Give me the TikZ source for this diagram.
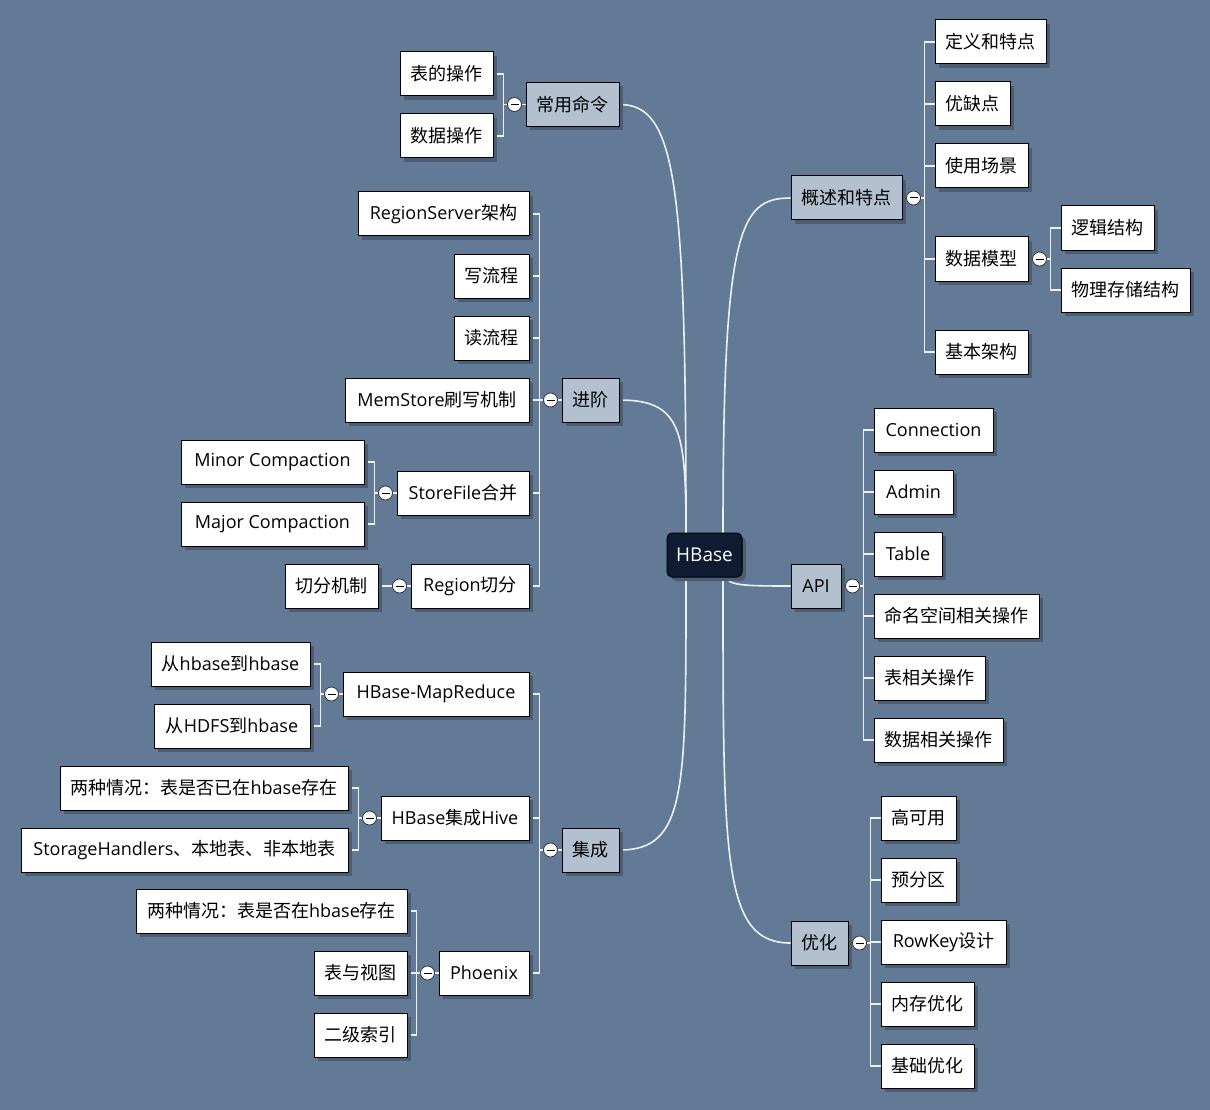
\documentclass[tikz,border=0pt]{standalone}
\usepackage{fontspec}
\setmainfont{Noto Sans CJK SC}
\newfontfamily\lat{Open Sans}
\usetikzlibrary{calc,shadows}
\pgfdeclarelayer{canvaslayer}
\pgfdeclarelayer{wirelayer}
\pgfsetlayers{canvaslayer,wirelayer,main}

\definecolor{canvas}{RGB}{98,122,150}
\definecolor{shade}{RGB}{74,93,116}
\definecolor{topicfill}{RGB}{179,192,207}
\definecolor{rootfill}{RGB}{14,27,48}
\definecolor{wirec}{RGB}{238,241,244}

\tikzset{
  box/.style={draw=black, line width=1pt, minimum height=44pt, inner sep=0pt,
    text=black, font=\fontsize{18}{22}\selectfont,
    drop shadow={shadow xshift=4pt, shadow yshift=-4pt, fill=shade, opacity=1}},
  leaf/.style={box, fill=white},
  topic/.style={box, fill=topicfill},
  rootbox/.style={draw=black, line width=1pt, rounded corners=5pt, fill=rootfill,
    text=white, minimum height=44pt, minimum width=75pt, inner sep=0pt,
    font=\fontsize{19}{22}\selectfont\lat,
    drop shadow={shadow xshift=4pt, shadow yshift=-4pt, fill=shade, opacity=1}},
  knob/.style={circle, draw=black!80, fill=white, line width=0.8pt,
    minimum size=14pt, inner sep=0pt,
    path picture={\draw[line width=1pt, black]
      ($(path picture bounding box.center)+(-4,0)$) --
      ($(path picture bounding box.center)+(4,0)$);}},
  wire/.style={draw=wirec, line width=1.3pt},
  trunk/.style={draw=wirec, line width=1.6pt},
}

\begin{document}
\begin{tikzpicture}[x=1pt, y=-1pt]
\begin{pgfonlayer}{canvaslayer}
  \fill[canvas] (0,0) rectangle (1210,1110);
\end{pgfonlayer}
\useasboundingbox (0,0) rectangle (1210,1110);

% ---------- root ----------
\node[rootbox] (hbase) at (704.5,555) {HBase};

% ---------- main topics ----------
\node[topic, minimum width=93pt]  (cmd)  at (572.5,104.5) {常用命令};
\node[topic, minimum width=57pt]  (adv)  at (590.5,400) {进阶};
\node[topic, minimum width=57pt]  (intg) at (590.5,850) {集成};
\node[topic, minimum width=111pt] (ovw)  at (846.5,198) {概述和特点};
\node[topic, minimum width=50pt]  (api)  at (816,586) {\lat API};
\node[topic, minimum width=57pt]  (opt)  at (819.5,943) {优化};

% ---------- 常用命令 ----------
\node[leaf, minimum width=93pt] (tbl) at (446.5,74)  {表的操作};
\node[leaf, minimum width=93pt] (dat) at (446.5,136) {数据操作};

% ---------- 进阶 ----------
\node[leaf, minimum width=171pt] (rs)  at (443.5,214) {{\lat RegionServer}架构};
\node[leaf, minimum width=75pt]  (wr)  at (491.5,276) {写流程};
\node[leaf, minimum width=75pt]  (rd)  at (491.5,338) {读流程};
\node[leaf, minimum width=184pt] (ms)  at (437,400)   {{\lat MemStore}刷写机制};
\node[leaf, minimum width=132pt] (sf)  at (463,493)   {{\lat StoreFile}合并};
\node[leaf, minimum width=118pt] (rg)  at (470,586)   {{\lat Region}切分};
\node[leaf, minimum width=183pt] (mnc) at (272.5,462) {\lat Minor Compaction};
\node[leaf, minimum width=183pt] (mjc) at (272.5,524) {\lat Major Compaction};
\node[leaf, minimum width=93pt]  (cut) at (331.5,586) {切分机制};

% ---------- 集成 ----------
\node[leaf, minimum width=186pt] (mr)   at (436,694)   {\lat HBase-MapReduce};
\node[leaf, minimum width=148pt] (hive) at (455,818)   {{\lat HBase}集成{\lat Hive}};
\node[leaf, minimum width=90pt]  (phx)  at (484,973)   {\lat Phoenix};
\node[leaf, minimum width=159pt] (h2h)  at (230.5,664) {从{\lat hbase}到{\lat hbase}};
\node[leaf, minimum width=156pt] (hdfs) at (232,726)   {从{\lat HDFS}到{\lat hbase}};
\node[leaf, minimum width=288pt] (hv1)  at (204,788)   {两种情况：表是否已在{\lat hbase}存在};
\node[leaf, minimum width=327pt] (hv2)  at (184.5,850) {{\lat StorageHandlers}、本地表、非本地表};
\node[leaf, minimum width=271pt] (px1)  at (271.5,911) {两种情况：表是否在{\lat hbase}存在};
\node[leaf, minimum width=93pt]  (px2)  at (360.5,973) {表与视图};
\node[leaf, minimum width=93pt]  (px3)  at (360.5,1035) {二级索引};

% ---------- 概述和特点 ----------
\node[leaf, minimum width=111pt] (def)  at (990.5,42)  {定义和特点};
\node[leaf, minimum width=75pt]  (pc)   at (972.5,104) {优缺点};
\node[leaf, minimum width=93pt]  (use)  at (981.5,166) {使用场景};
\node[leaf, minimum width=93pt]  (dm)   at (981.5,259) {数据模型};
\node[leaf, minimum width=93pt]  (arch) at (981.5,352) {基本架构};
\node[leaf, minimum width=93pt]  (lg)   at (1107.5,228) {逻辑结构};
\node[leaf, minimum width=129pt] (phy)  at (1125.5,290) {物理存储结构};

% ---------- API ----------
\node[leaf, minimum width=119pt] (conn) at (933.5,430) {\lat Connection};
\node[leaf, minimum width=79pt]  (adm)  at (913.5,492) {\lat Admin};
\node[leaf, minimum width=68pt]  (tab)  at (908,554)   {\lat Table};
\node[leaf, minimum width=165pt] (nsop) at (956.5,616) {命名空间相关操作};
\node[leaf, minimum width=111pt] (tbop) at (929.5,678) {表相关操作};
\node[leaf, minimum width=129pt] (dtop) at (938.5,740) {数据相关操作};

% ---------- 优化 ----------
\node[leaf, minimum width=75pt]  (ha)   at (918.5,818)  {高可用};
\node[leaf, minimum width=75pt]  (pre)  at (918.5,880)  {预分区};
\node[leaf, minimum width=125pt] (rk)   at (943.5,942)  {{\lat RowKey}设计};
\node[leaf, minimum width=93pt]  (mem)  at (927.5,1004) {内存优化};
\node[leaf, minimum width=93pt]  (base) at (927.5,1066) {基础优化};

% ---------- collapse knobs ----------
\node[knob] (kcmd)  at ($(cmd.west)+(-11,0)$) {};
\node[knob] (kadv)  at ($(adv.west)+(-11,0)$) {};
\node[knob] (ksf)   at ($(sf.west)+(-11,0)$) {};
\node[knob] (krg)   at ($(rg.west)+(-11,0)$) {};
\node[knob] (kint)  at ($(intg.west)+(-11,0)$) {};
\node[knob] (kmr)   at ($(mr.west)+(-11,0)$) {};
\node[knob] (khive) at ($(hive.west)+(-11,0)$) {};
\node[knob] (kphx)  at ($(phx.west)+(-11,0)$) {};
\node[knob] (kovw)  at ($(ovw.east)+(11,0)$) {};
\node[knob] (kdm)   at ($(dm.east)+(11,0)$) {};
\node[knob] (kapi)  at ($(api.east)+(11,0)$) {};
\node[knob] (kopt)  at ($(opt.east)+(11,0)$) {};

% spine points of each group
\coordinate (scmd)  at ($(kcmd)+(-11,0)$);
\coordinate (sadv)  at ($(kadv)+(-11,0)$);
\coordinate (ssf)   at ($(ksf)+(-11,0)$);
\coordinate (sint)  at ($(kint)+(-11,0)$);
\coordinate (smr)   at ($(kmr)+(-11,0)$);
\coordinate (shive) at ($(khive)+(-11,0)$);
\coordinate (sphx)  at ($(kphx)+(-11,0)$);
\coordinate (sovw)  at ($(kovw)+(11,0)$);
\coordinate (sdm)   at ($(kdm)+(11,0)$);
\coordinate (sapi)  at ($(kapi)+(11,0)$);
\coordinate (sopt)  at ($(kopt)+(11,0)$);

\begin{pgfonlayer}{wirelayer}
  % curved branches from the root
  \draw[trunk] ($(hbase.north)+(-18.5,0)$) .. controls +(0,-353) and +(56,0) .. (cmd.east);
  \draw[trunk] ($(hbase.north)+(-18.5,0)$) .. controls +(0,-103) and +(61,0) .. (adv.east);
  \draw[trunk] ($(hbase.south)+(-18.5,0)$) .. controls +(0,213) and +(67,0) .. (intg.east);
  \draw[trunk] ($(hbase.north)+(18.5,0)$) .. controls +(0,-303) and +(-51,0) .. (ovw.west);
  \draw[trunk] ($(hbase.south)+(21,0)$) .. controls +(5,8) and +(-46,0) .. (api.west);
  \draw[trunk] ($(hbase.south)+(18.5,0)$) .. controls +(0,283) and +(-68,0) .. (opt.west);

  % parent to knob stubs
  \foreach \p/\k in {cmd/kcmd, adv/kadv, sf/ksf, rg/krg, intg/kint, mr/kmr, hive/khive, phx/kphx}
    \draw[wire] (\p.west) -- (\k.east);
  \foreach \p/\k in {ovw/kovw, dm/kdm, api/kapi, opt/kopt}
    \draw[wire] (\p.east) -- (\k.west);

  % left-hand groups
  \foreach \c in {tbl, dat} \draw[wire] (\c.east) -| (scmd) -- (kcmd.west);
  \foreach \c in {rs, wr, rd, ms, sf, rg} \draw[wire] (\c.east) -| (sadv) -- (kadv.west);
  \foreach \c in {mnc, mjc} \draw[wire] (\c.east) -| (ssf) -- (ksf.west);
  \draw[wire] (cut.east) -- (krg.west);
  \foreach \c in {mr, hive, phx} \draw[wire] (\c.east) -| (sint) -- (kint.west);
  \foreach \c in {h2h, hdfs} \draw[wire] (\c.east) -| (smr) -- (kmr.west);
  \foreach \c in {hv1, hv2} \draw[wire] (\c.east) -| (shive) -- (khive.west);
  \foreach \c in {px1, px2, px3} \draw[wire] (\c.east) -| (sphx) -- (kphx.west);

  % right-hand groups
  \foreach \c in {def, pc, use, dm, arch} \draw[wire] (\c.west) -| (sovw) -- (kovw.east);
  \foreach \c in {lg, phy} \draw[wire] (\c.west) -| (sdm) -- (kdm.east);
  \foreach \c in {conn, adm, tab, nsop, tbop, dtop} \draw[wire] (\c.west) -| (sapi) -- (kapi.east);
  \foreach \c in {ha, pre, rk, mem, base} \draw[wire] (\c.west) -| (sopt) -- (kopt.east);
\end{pgfonlayer}
\end{tikzpicture}
\end{document}
